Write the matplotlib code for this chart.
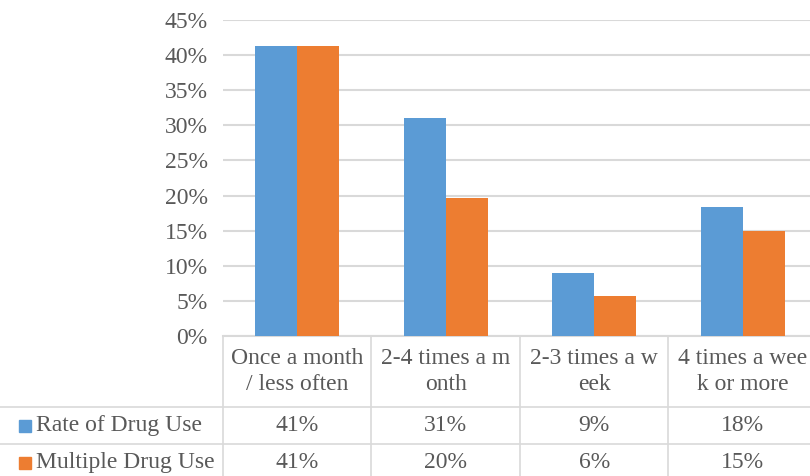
# LIBRARIES

import numpy as np
import matplotlib
matplotlib.use("Agg")
import matplotlib.pyplot as plt
from matplotlib.ticker import PercentFormatter
import matplotlib.transforms as mtransforms


# DATA

categories = ["Once a month\n/ less often", "2-4 times a m\nonth",
              "2-3 times a w\neek", "4 times a wee\nk or more"]
series_names = ["Rate of Drug Use", "Multiple Drug Use"]
rate_of_use = [0.413, 0.310, 0.090, 0.183]
multiple_use = [0.413, 0.196, 0.057, 0.149]
colors = ["#5b9bd5", "#ed7d31"]


# STYLE

plt.rcParams['font.family'] = ['Liberation Serif', 'DejaVu Serif']
text_color = "#595959"
grid_color = "#d9d9d9"
fs = 17


# FIGURE

fig = plt.figure(figsize=(8.1, 4.76), dpi=100)
ax = fig.add_axes([0.2753, 0.2941, 0.7333, 0.6639])

x = np.arange(len(categories))
w = 0.283
ax.bar(x - w / 2, rate_of_use, width=w, color=colors[0], zorder=3)
ax.bar(x + w / 2, multiple_use, width=w, color=colors[1], zorder=3)

ax.set_xlim(-0.5, len(categories) - 0.5)
ax.set_ylim(0, 0.45)
ax.set_yticks(np.arange(0, 0.451, 0.05))
ax.yaxis.set_major_formatter(PercentFormatter(1.0, decimals=0))
ax.tick_params(axis='y', length=0, pad=11, labelsize=fs, labelcolor=text_color)
ax.set_xticks([])
ax.grid(axis='y', color=grid_color, linewidth=1.5, zorder=0)
for s in ["left", "right", "top"]:
    ax.spines[s].set_visible(False)
ax.spines["bottom"].set_color(grid_color)
ax.spines["bottom"].set_linewidth(1.5)


# DATA TABLE

xt = ax.get_xaxis_transform()
ft = mtransforms.blended_transform_factory(fig.transFigure, ax.transAxes)

header_bottom = -0.225
row_bottoms = [-0.343, -0.46]
row_tops = [header_bottom, row_bottoms[0]]

# vertical borders
for b in np.arange(-0.5, len(categories), 1.0):
    ax.plot([b, b], [0, row_bottoms[-1]], transform=xt, color=grid_color,
            linewidth=1.2, clip_on=False)

# horizontal borders across the legend column too
for yb in [header_bottom, row_bottoms[0]]:
    ax.plot([0, 1], [yb, yb], transform=ft, color=grid_color,
            linewidth=1.2, clip_on=False)

# header text
for i, c in enumerate(categories):
    ax.text(i, header_bottom / 2, c, transform=xt, ha="center", va="center",
            fontsize=fs, color=text_color, linespacing=1.35)

# rows
rows = [rate_of_use, multiple_use]
for r, vals in enumerate(rows):
    yc = (row_tops[r] + row_bottoms[r]) / 2
    ax.text(0.044, yc, series_names[r], transform=ft, ha="left", va="center",
            fontsize=fs, color=text_color)
    ax.plot([0.031], [yc], transform=ft, marker="s", markersize=9,
            color=colors[r], clip_on=False, linestyle="none")
    for i, v in enumerate(vals):
        ax.text(i, yc, f"{round(v * 100):.0f}%", transform=xt, ha="center",
                va="center", fontsize=fs, color=text_color)


# OUTPUT

fig.savefig("out.png", dpi=100)
